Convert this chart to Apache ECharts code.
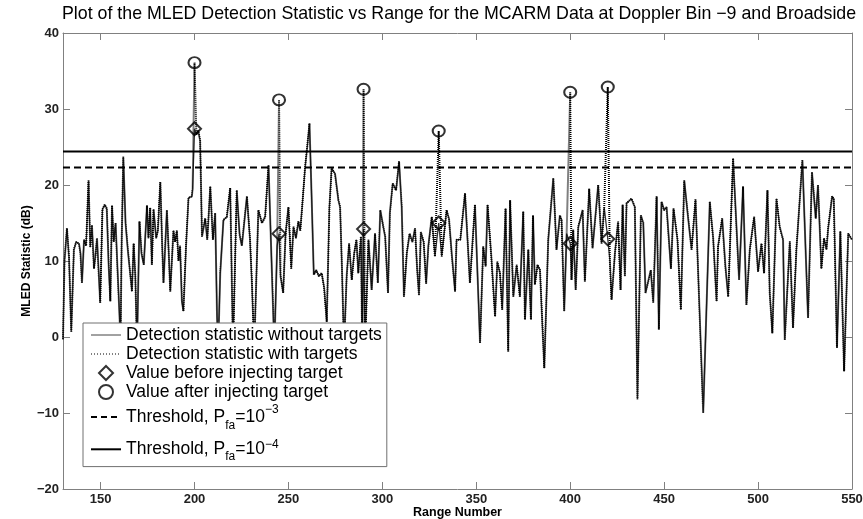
<!DOCTYPE html>
<html><head><meta charset="utf-8">
<script src="https://cdn.jsdelivr.net/npm/echarts@6/dist/echarts.min.js"></script>
<style>html,body{margin:0;padding:0;background:#fff}#c{width:863px;height:519px}</style>
</head><body><div id="c"></div>
<script>
// ---- data ----
const rangeNumber = [
130.0,130.8,132.1,133.2,134.4,135.8,137.0,138.5,139.3,140.1,141.2,142.3,143.6,144.5,145.4,146.5,147.2,148.1,149.8,151.0,
152.2,153.3,154.3,155.2,156.1,157.0,158.0,159.0,160.1,160.6,161.2,162.1,163.3,164.5,165.5,166.7,167.6,168.5,169.4,170.7,
171.8,173.0,174.7,175.5,176.4,177.3,178.2,179.6,180.5,181.8,182.8,183.5,185.3,186.3,187.1,188.8,189.7,190.6,191.5,192.3,
193.3,194.1,195.5,196.8,198.6,199.0,200,201.0,202.0,203.0,204.0,205.7,206.8,208.4,209.8,211.0,212.0,212.6,213.7,215.4,
217.2,219.0,220.5,222.5,224.0,225.2,227.9,229.5,230.5,231.8,234.0,235.9,237.6,239.4,240.5,242.5,244.0,245,245.8,247.2,
248.5,250.0,251.5,252.7,254.0,255.3,256.3,257.3,258.9,260.0,261.2,262.4,263.5,264.8,266.2,267.7,269.0,270.4,271.8,273.0,
274.8,276.6,277.5,278.5,279.6,281.0,282.3,283.7,285.0,286.2,287.2,288.6,289.3,290,290.8,292.6,294.3,296.1,297.6,298.9,
300.5,301.5,303.0,304.0,305.5,307.3,308.9,310.3,311.5,313.0,314.5,316.0,317.4,318.5,319.5,320.5,322.0,323.3,324.5,326.3,
328.0,330,331.6,334.2,335.5,336.9,338.7,339.5,341.5,344.0,346.6,349.3,352.0,353.7,355.0,356.0,358.0,360.0,361.2,362.6,
363.8,365.6,367.0,368.0,369.7,371.5,373.2,375.0,375.9,377.7,379.1,380.2,381.2,382.6,383.9,386.2,388.3,391.0,392.7,394.5,
395.4,396.8,398.1,400,400.7,401.6,402.9,404.3,406.6,407.8,410.1,411.9,414.9,416.7,418.1,420,421.1,422.0,423.8,425.5,
426.8,427.9,429.1,430.0,432.6,434.4,435.8,437.6,438.9,440.1,442.9,444.2,446.0,447.2,448.6,450.0,451.3,453.6,455.0,457.1,
458.9,460.7,462.8,464.6,466.7,470.8,474.3,476.1,477.9,478.7,480.9,482.6,484.1,486.7,489.9,492.0,493.8,495.6,497.9,500.0,
501.8,503.2,505.0,506.2,507.6,509.8,511.5,513.3,514.2,516.9,518.6,520.4,523.6,526.6,528.7,530.7,531.9,533.7,535.1,536.4,
537.3,539.4,540.3,542.0,543.8,545.8,548.0,550.0
];
const statistic = [
-0.3,10.0,14.3,10.5,0.7,11.5,12.5,12.3,11.0,7.1,12.8,12.0,20.6,11.8,14.7,9.0,10.5,13.0,4.5,16.8,
17.4,16.9,9.5,4.7,17.3,12.5,15.0,9.0,2.7,-1.5,12.0,23.7,15.0,11.5,9.0,6.0,12.3,8.0,-1.5,15.2,
11.0,9.5,17.3,13.0,17.0,9.5,16.8,13.0,14.0,20.4,12.0,7.1,16.7,11.0,6.0,14.0,12.5,14.0,10.0,12.0,
4.7,3.4,12.0,18.3,18.5,19.5,27.4,26.6,27.2,25.8,13.2,15.6,12.8,19.8,12.8,16.3,2.7,-1.5,8.4,15.4,
15.8,19.6,-1.5,19.3,13.5,12.0,18.5,13.0,7.5,-1.5,16.7,15.0,15.8,22.6,14.0,-1.5,12.0,13.6,8.0,5.8,
13.6,17.1,9.0,14.5,13.0,15.2,14.0,17.1,22.4,25.0,28.1,18.0,8.2,8.8,8.0,8.4,6.5,2.0,17.0,22.2,
21.5,18.0,17.1,9.0,-1.5,8.0,12.3,7.5,11.0,12.8,8.4,13.2,-1.5,14.2,-1.5,12.8,6.2,13.6,7.1,16.7,
14.5,13.2,5.8,16.3,20.2,19.3,23.1,17.1,5.3,11.0,13.6,12.5,14.3,9.0,5.5,13.8,12.5,7.0,12.0,15.8,
10.6,15.0,10.6,16.7,15.5,11.0,6.0,12.8,12.8,18.9,7.1,17.4,-0.8,11.9,9.3,17.4,10.6,2.7,9.9,8.4,
3.6,16.9,-1.9,18.0,5.3,9.5,5.3,16.5,2.3,11.5,2.3,16.0,6.9,9.5,8.8,-4.1,12.8,20.9,11.5,16.0,
15.4,3.4,13.6,12.3,7.5,14.1,6.2,14.5,16.7,7.3,19.5,11.7,20.0,12.3,17.1,12.9,10.1,4.9,11.0,15.2,
6.2,17.4,8.0,17.6,18.2,17.1,-8.2,16.0,15.0,5.8,8.8,4.5,18.5,1.0,17.8,16.7,17.1,9.0,16.9,12.8,
3.6,20.6,15.6,11.5,18.1,-10.0,17.8,13.0,4.7,11.9,15.6,9.3,5.3,23.5,7.5,19.8,4.2,11.5,15.8,8.6,
12.3,8.4,19.3,5.8,0.5,18.2,14.5,12.8,-0.4,12.6,1.2,11.5,23.3,2.5,21.7,15.6,20.0,9.0,13.0,11.5,
14.3,18.5,18.2,-1.4,13.9,-4.5,13.6,12.8
];
const targetRange = [200, 245, 290, 330, 400, 420];
const valueBefore = [27.4, 13.6, 14.2, 15.0, 12.3, 12.9];
const valueAfter  = [36.1, 31.2, 32.6, 27.1, 32.2, 32.9];
const thresholdPfa3 = 22.3;
const thresholdPfa4 = 24.4;
const xTicks = [150, 200, 250, 300, 350, 400, 450, 500, 550];
const yMin = -20, yMax = 40, yStep = 10;
const xMin = 130, xMax = 550;

// ---- build ----
const FONT = 'Liberation Sans, Arial, Helvetica, sans-serif';
const after = new Map(targetRange.map((r, i) => [r, valueAfter[i]]));
const lineNo = rangeNumber.map((r, i) => [r, statistic[i]]);
const lineWith = rangeNumber.map((r, i) => [r, after.has(r) ? after.get(r) : statistic[i]]);
const before = targetRange.map((r, i) => [r, valueBefore[i]]);
const afterPts = targetRange.map((r, i) => [r, valueAfter[i]]);

const N1 = 'Detection statistic without targets';
const N2 = 'Detection statistic with targets';
const N3 = 'Value before injecting target';
const N4 = 'Value after injecting target';
const N5 = 'Threshold, Pfa=10\u22123';
const N6 = 'Threshold, Pfa=10\u22124';

const AX = '#808080';
const minus = v => (v < 0 ? '\u2212' + Math.abs(v) : String(v));
const tok = (fs, lh, va, pad) => Object.assign(
  { fontFamily: FONT, fontSize: fs, color: '#000' },
  lh ? { lineHeight: lh } : {}, va ? { verticalAlign: va } : {}, pad ? { padding: pad } : {});
const hidden = { opacity: 0 };

const chart = echarts.init(document.getElementById('c'));
chart.setOption({
  animation: false,
  backgroundColor: '#fff',
  title: {
    text: 'Plot of the MLED Detection Statistic vs Range for the MCARM Data at Doppler Bin \u22129 and Broadside',
    left: 57, top: 0,
    textStyle: { fontFamily: FONT, fontSize: 17.8, fontWeight: 'normal', color: '#000' }
  },
  grid: { left: 63, right: 11, top: 33, bottom: 30, outerBoundsMode: 'none', containLabel: false },
  xAxis: [{
    type: 'value', min: xMin, max: xMax, position: 'bottom',
    axisLine: { show: true, onZero: false, lineStyle: { color: AX, width: 1 } },
    axisTick: { show: true, inside: true, length: 7, customValues: xTicks, lineStyle: { color: AX } },
    axisLabel: { customValues: xTicks, fontFamily: FONT, fontSize: 13, fontWeight: 'bold', color: '#222', margin: 4 },
    splitLine: { show: false },
    name: 'Range Number', nameLocation: 'middle', nameGap: 17, nameMoveOverlap: false,
    nameTextStyle: { fontFamily: FONT, fontSize: 12.5, fontWeight: 'bold', color: '#000' }
  }, {
    type: 'value', min: xMin, max: xMax, position: 'top',
    axisLine: { show: true, onZero: false, lineStyle: { color: AX, width: 1 } },
    axisTick: { show: true, inside: true, length: 7, customValues: xTicks, lineStyle: { color: AX } },
    axisLabel: { show: false }, splitLine: { show: false }
  }],
  yAxis: [{
    type: 'value', min: yMin, max: yMax, interval: yStep, position: 'left',
    axisLine: { show: true, onZero: false, lineStyle: { color: AX, width: 1 } },
    axisTick: { show: true, inside: true, length: 7, lineStyle: { color: AX } },
    axisLabel: { fontFamily: FONT, fontSize: 13, fontWeight: 'bold', color: '#222', margin: 4, formatter: minus },
    splitLine: { show: false },
    name: 'MLED Statistic (dB)', nameLocation: 'middle', nameGap: 30, nameRotate: 90, nameMoveOverlap: false,
    nameTextStyle: { fontFamily: FONT, fontSize: 12, fontWeight: 'bold', color: '#000' }
  }, {
    type: 'value', min: yMin, max: yMax, interval: yStep, position: 'right',
    axisLine: { show: true, onZero: false, lineStyle: { color: AX, width: 1 } },
    axisTick: { show: true, inside: true, length: 7, lineStyle: { color: AX } },
    axisLabel: { show: false }, splitLine: { show: false }
  }],
  legend: {
    orient: 'vertical', left: 83, top: 323, selectedMode: false,
    padding: [3, 5, 1, 7], itemGap: 1, itemWidth: 30, itemHeight: 14,
    backgroundColor: '#fff', borderColor: '#707070', borderWidth: 1,
    textStyle: {
      fontFamily: FONT, fontSize: 17.5, color: '#000', lineHeight: 18,
      rich: {
        m5: tok(17.5, 30), b5: tok(12, 0, 'bottom'), p5: tok(12, 0, 'top', [1.3, 0, 0, 0]),
        m6: tok(17.5, 32.6), b6: tok(12, 0, 'bottom', [0, 0, 2.6, 0]), p6: tok(12, 0, 'top', [5.3, 0, 0, 0])
      }
    },
    formatter: function (name) {
      if (name === N5) return '{m5|Threshold, P}{b5|fa}{m5|=10}{p5|\u22123}';
      if (name === N6) return '{m6|Threshold, P}{b6|fa}{m6|=10}{p6|\u22124}';
      return name;
    },
    data: [
      { name: N1, itemStyle: hidden, lineStyle: { color: '#444', width: 1, type: 'solid' } },
      { name: N2, itemStyle: hidden, lineStyle: { color: '#000', width: 1, type: [1, 2] } },
      { name: N3, icon: 'path://M6,0L12,6L6,12L0,6Z',
        itemStyle: { color: 'rgba(0,0,0,0)', borderColor: '#000', borderWidth: 2 } },
      { name: N4, icon: 'path://M12,6A6,6 0 1 1 0,6A6,6 0 1 1 12,6Z',
        itemStyle: { color: 'rgba(0,0,0,0)', borderColor: '#000', borderWidth: 2 } },
      { name: N5, itemStyle: hidden, lineStyle: { color: '#000', width: 2, type: [6, 4] } },
      { name: N6, itemStyle: hidden, lineStyle: { color: '#000', width: 2, type: 'solid' } }
    ]
  },
  series: [
    { name: N1, type: 'line', data: lineNo, symbol: 'none', z: 2,
      lineStyle: { color: '#333', width: 1.3 }, itemStyle: { color: '#333' } },
    { name: N2, type: 'line', data: lineWith, symbol: 'none', z: 3,
      lineStyle: { color: '#000', width: 2, type: [1, 1] }, itemStyle: { color: '#000' } },
    { name: N3, type: 'scatter', data: before, symbol: 'diamond', symbolSize: 13, z: 5,
      itemStyle: { color: 'rgba(0,0,0,0)', borderColor: '#000', borderWidth: 2 } },
    { name: N4, type: 'scatter', data: afterPts, symbol: 'circle', symbolSize: [12, 11], z: 5,
      itemStyle: { color: 'rgba(0,0,0,0)', borderColor: '#000', borderWidth: 2 } },
    { name: N5, type: 'line', data: [[xMin, thresholdPfa3], [xMax, thresholdPfa3]], symbol: 'none', z: 4,
      lineStyle: { color: '#000', width: 2, type: [7, 4] }, itemStyle: { color: '#000' } },
    { name: N6, type: 'line', data: [[xMin, thresholdPfa4], [xMax, thresholdPfa4]], symbol: 'none', z: 4,
      lineStyle: { color: '#000', width: 2, type: 'solid' }, itemStyle: { color: '#000' } }
  ]
});
</script>
</body></html>
